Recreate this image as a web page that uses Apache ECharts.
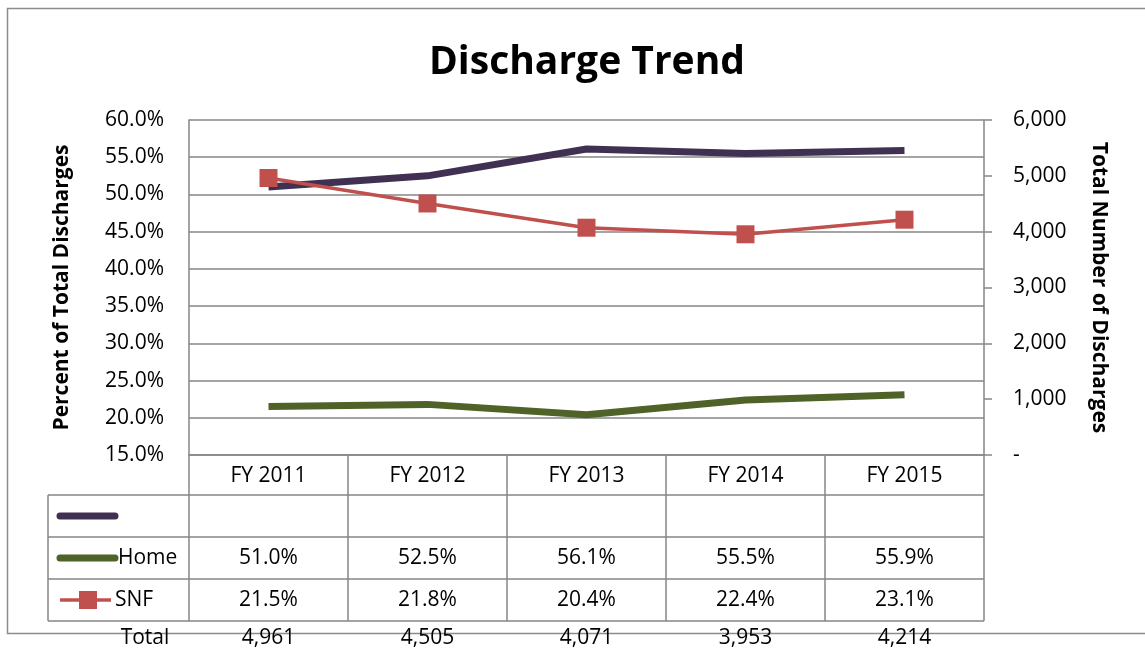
<!DOCTYPE html>
<html>
<head>
<meta charset="utf-8">
<script src="https://cdn.jsdelivr.net/npm/echarts@6/dist/echarts.min.js"></script>
<style>
  html, body { margin: 0; padding: 0; background: #fff; }
  #chart { width: 1145px; height: 648px; }
</style>
</head>
<body>
<div id="chart"></div>
<script>
// categories and values
var categories = ['FY 2011', 'FY 2012', 'FY 2013', 'FY 2014', 'FY 2015'];
var homeShare = [0.510, 0.525, 0.561, 0.555, 0.559];
var snfShare = [0.215, 0.218, 0.204, 0.224, 0.231];
var totalDischarges = [4961, 4505, 4071, 3953, 4214];
var rowLabels = ['', 'Home', 'SNF', 'Total'];

var FONT = "'Open Sans', sans-serif";
var FS = 21;
var GRID_GRAY = '#868686';
var C_DARK = '#403152', C_GREEN = '#4F6228', C_RED = '#C0504D';

function pct(v) { return (v * 100).toFixed(1) + '%'; }
function num(v) { return v === 0 ? '-' : v.toLocaleString('en-US'); }

var chart = echarts.init(document.getElementById('chart'));

var option = {
  animation: false,
  backgroundColor: '#fff',
  textStyle: { fontFamily: FONT, color: '#000' },
  title: {
    text: 'Discharge Trend',
    left: 424,
    top: 38,
    textStyle: { fontFamily: FONT, fontSize: 39, fontWeight: 'bold', color: '#000' }
  },
  grid: { left: 189, right: 161, top: 120, height: 335, outerBoundsMode: 'none', containLabel: false },
  xAxis: {
    type: 'category',
    data: categories,
    boundaryGap: true,
    axisLine: { show: true, lineStyle: { color: GRID_GRAY, width: 1.5 } },
    axisTick: { show: false },
    axisLabel: { fontSize: FS, color: '#000', margin: 11, fontFamily: FONT, interval: 0 }
  },
  yAxis: [
    {
      type: 'value',
      min: 0.15, max: 0.60, interval: 0.05,
      name: 'Percent of Total Discharges',
      nameLocation: 'middle',
      nameGap: 116,
      nameRotate: 90,
      nameTextStyle: { fontSize: 21, fontWeight: 'bold', color: '#000', fontFamily: FONT },
      axisLine: { show: true, lineStyle: { color: GRID_GRAY, width: 1.5 } },
      axisTick: { show: false },
      splitLine: { show: true, lineStyle: { color: GRID_GRAY, width: 1.5 } },
      axisLabel: { fontSize: FS, color: '#000', margin: 25, formatter: pct, fontFamily: FONT }
    },
    {
      type: 'value',
      min: 0, max: 6000, interval: 1000,
      position: 'right',
      name: 'Total Number of Discharges',
      nameLocation: 'middle',
      nameGap: 104,
      nameRotate: -90,
      nameTextStyle: { fontSize: 21, fontWeight: 'bold', color: '#000', fontFamily: FONT },
      axisLine: { show: true, lineStyle: { color: GRID_GRAY, width: 1.5 } },
      axisTick: { show: true, length: 8, inside: false, lineStyle: { color: GRID_GRAY, width: 1.5 } },
      splitLine: { show: false },
      axisLabel: { fontSize: FS, color: '#000', margin: 29, formatter: num, fontFamily: FONT }
    }
  ],
  series: [
    {
      name: rowLabels[0] || ' ',
      type: 'line',
      yAxisIndex: 0,
      data: homeShare,
      symbol: 'none',
      lineStyle: { color: C_DARK, width: 7 },
      itemStyle: { color: C_DARK },
      z: 2
    },
    {
      name: rowLabels[1],
      type: 'line',
      yAxisIndex: 0,
      data: snfShare,
      symbol: 'none',
      lineStyle: { color: C_GREEN, width: 7 },
      itemStyle: { color: C_GREEN },
      z: 2
    },
    {
      name: rowLabels[2],
      type: 'line',
      yAxisIndex: 1,
      data: totalDischarges,
      symbol: 'rect',
      symbolSize: 18,
      lineStyle: { color: C_RED, width: 3.5 },
      itemStyle: { color: C_RED },
      z: 3
    }
  ]
};

chart.setOption(option);

// data table underneath the plot, aligned to the category axis
function drawTable() {
  var xs = categories.map(function (c) { return chart.convertToPixel({ xAxisIndex: 0 }, c); });
  var band = xs[1] - xs[0];
  var colLeft = xs[0] - band / 2;
  var colRight = xs[xs.length - 1] + band / 2;
  var yTop = chart.convertToPixel({ yAxisIndex: 0 }, 0.15);
  var rowH = 42;
  var headerH = 40;
  var tableLeft = 48;
  var lineStyle = { stroke: GRID_GRAY, lineWidth: 1.5 };
  var font = FS + 'px ' + FONT;
  var els = [];

  // outer chart border
  els.push({ type: 'rect', shape: { x: 7.5, y: 8.5, width: 1160, height: 625 },
    style: { fill: null, stroke: '#8c8c8c', lineWidth: 1.5 }, z: -10, silent: true });

  var rowsTop = yTop + headerH;
  var rowsBottom = rowsTop + rowH * 3;
  for (var r = 0; r <= 3; r++) {
    var y = rowsTop + r * rowH;
    els.push({ type: 'line', shape: { x1: tableLeft, y1: y, x2: colRight, y2: y }, style: lineStyle, silent: true });
  }
  els.push({ type: 'line', shape: { x1: tableLeft, y1: rowsTop, x2: tableLeft, y2: rowsBottom }, style: lineStyle, silent: true });
  for (var i = 0; i <= categories.length; i++) {
    var x = colLeft + i * band;
    els.push({ type: 'line', shape: { x1: x, y1: yTop, x2: x, y2: rowsBottom }, style: lineStyle, silent: true });
  }

  var rows = [
    null,
    homeShare.map(pct),
    snfShare.map(pct),
    totalDischarges.map(num)
  ];
  var rowCenters = [rowsTop + rowH * 0.5, rowsTop + rowH * 1.5, rowsTop + rowH * 2.5, rowsBottom + 17];

  rows.forEach(function (vals, ri) {
    if (!vals) return;
    vals.forEach(function (t, ci) {
      els.push({ type: 'text', x: xs[ci], y: rowCenters[ri],
        style: { text: t, fill: '#000', font: font, align: 'center', verticalAlign: 'middle' }, z: 10, silent: true });
    });
  });

  // legend keys in the first column
  var kx1 = 60, kx2 = 115;
  els.push({ type: 'line', shape: { x1: kx1, y1: rowCenters[0], x2: kx2, y2: rowCenters[0] },
    style: { stroke: C_DARK, lineWidth: 7, lineCap: 'round' }, silent: true });
  els.push({ type: 'line', shape: { x1: kx1, y1: rowCenters[1], x2: kx2, y2: rowCenters[1] },
    style: { stroke: C_GREEN, lineWidth: 7, lineCap: 'round' }, silent: true });
  els.push({ type: 'text', x: 118, y: rowCenters[1],
    style: { text: rowLabels[1], fill: '#000', font: font, align: 'left', verticalAlign: 'middle' }, silent: true });
  els.push({ type: 'line', shape: { x1: kx1, y1: rowCenters[2], x2: 111, y2: rowCenters[2] },
    style: { stroke: C_RED, lineWidth: 3.5 }, silent: true });
  els.push({ type: 'rect', shape: { x: 79, y: rowCenters[2] - 9, width: 18, height: 18 },
    style: { fill: C_RED }, silent: true });
  els.push({ type: 'text', x: 115, y: rowCenters[2],
    style: { text: rowLabels[2], fill: '#000', font: font, align: 'left', verticalAlign: 'middle' }, silent: true });
  els.push({ type: 'text', x: 145, y: rowCenters[3],
    style: { text: rowLabels[3], fill: '#000', font: font, align: 'center', verticalAlign: 'middle' }, z: 10, silent: true });

  chart.setOption({ graphic: { elements: els } });
}

drawTable();
</script>
</body>
</html>
